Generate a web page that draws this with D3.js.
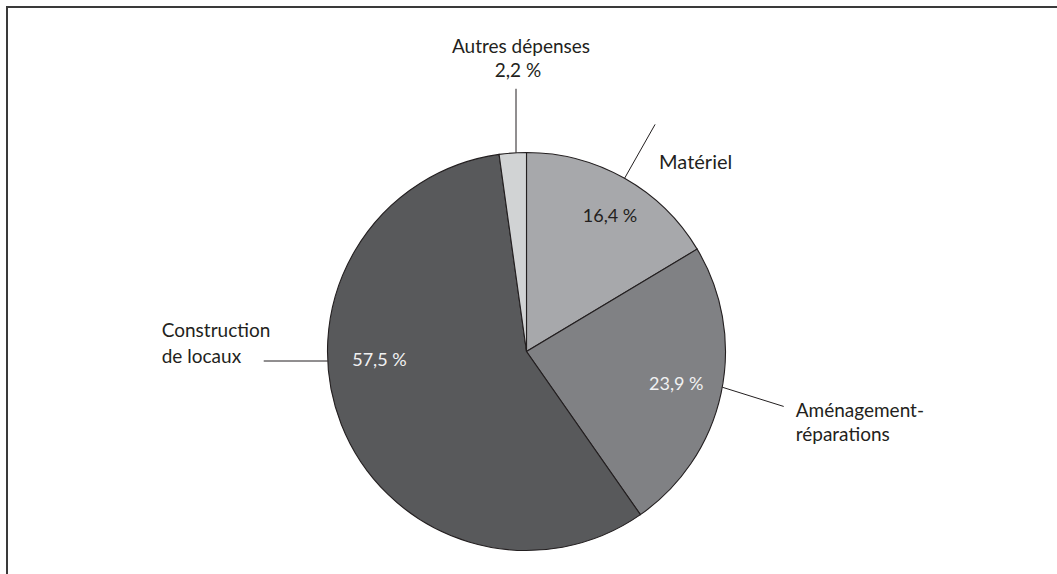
<!DOCTYPE html>
<html lang="fr">
<head>
<meta charset="utf-8">
<script src="https://cdn.jsdelivr.net/npm/d3@7"></script>
<style>
  html, body { margin: 0; padding: 0; background: #ffffff; }
  svg { display: block; }
  text { font-family: Lato, "Open Sans", sans-serif; }
</style>
</head>
<body>
<svg id="chart" width="1057" height="574"></svg>
<script>
// Répartition des dépenses (%), dans le sens horaire depuis midi
const categories = ["Matériel", "Aménagement-réparations", "Construction de locaux", "Autres dépenses"];
const labelLines = [["Matériel"], ["Aménagement-", "réparations"], ["Construction", "de locaux"], ["Autres dépenses"]];
const values = [16.4, 23.9, 57.5, 2.2];
const colors = ["#a7a8ab", "#808184", "#58595b", "#d1d3d4"];

const W = 1057, H = 574;
const svg = d3.select("#chart");

// cadre (bords gauche et haut)
svg.append("path")
  .attr("d", `M7,${H} L7,7 L${W},7`)
  .attr("fill", "none")
  .attr("stroke", "#3a3a3a")
  .attr("stroke-width", 2);

const cx = 526.5, cy = 351.5, R = 199;
const g = svg.append("g").attr("transform", `translate(${cx},${cy})`);

const fr = d3.formatLocale({ decimal: ",", thousands: " ", grouping: [3], currency: ["", " €"] });
const fmt = v => fr.format(".1f")(v) + " %";

const data = categories.map((c, i) => ({ name: c, lines: labelLines[i], value: values[i], color: colors[i] }));
const pie = d3.pie().sort(null).value(d => d.value).startAngle(0).endAngle(2 * Math.PI);
const arcs = pie(data);
const arc = d3.arc().innerRadius(0).outerRadius(R);

g.selectAll("path.slice")
  .data(arcs)
  .join("path")
  .attr("class", "slice")
  .attr("d", arc)
  .attr("fill", d => d.data.color)
  .attr("stroke", "#231f20")
  .attr("stroke-width", 1.1);

const mid = d => (d.startAngle + d.endAngle) / 2;
const polar = (a, r) => [r * Math.sin(a), -r * Math.cos(a)];

// étiquettes de pourcentage à l'intérieur des secteurs
const inside = [
  { i: 0, r: 0.80, angle: 0.552, fill: "#231f20" },
  { i: 1, r: 0.77, fill: "#f1f1f2" },
  { i: 2, r: 0.74, angle: 4.66, fill: "#f1f1f2" }
];
inside.forEach(o => {
  const d = arcs[o.i];
  const a = o.angle !== undefined ? o.angle : mid(d);
  const [x, y] = polar(a, o.r * R);
  g.append("text")
    .attr("x", x).attr("y", y)
    .attr("text-anchor", "middle")
    .attr("dy", "0.35em")
    .attr("font-size", 18)
    .attr("fill", o.fill)
    .text(fmt(d.data.value));
});

// lignes de rappel
const lineStyle = sel => sel.attr("stroke", "#231f20").attr("stroke-width", 1).attr("fill", "none");

// Matériel : ligne radiale
{
  const a = mid(arcs[0]);
  const [x1, y1] = polar(a, R);
  const [x2, y2] = polar(a, R + 62);
  g.append("line").attr("x1", x1).attr("y1", y1).attr("x2", x2).attr("y2", y2).call(lineStyle);
  g.append("text").attr("x", x2 + 4).attr("y", y2 + 45)
    .attr("font-size", 20).attr("fill", "#231f20").text(arcs[0].data.lines[0]);
}
// Aménagement-réparations
{
  const a = mid(arcs[1]) - 0.03;
  const [x1, y1] = polar(a, R);
  const [x2, y2] = polar(a + 0.03, R + 64);
  g.append("line").attr("x1", x1).attr("y1", y1).attr("x2", x2).attr("y2", y2).call(lineStyle);
  const t = g.append("text").attr("font-size", 19).attr("fill", "#231f20");
  arcs[1].data.lines.forEach((s, k) => {
    t.append("tspan").attr("x", x2 + 12).attr("y", y2 + 11 + k * 24).text(s);
  });
}
// Construction de locaux : ligne horizontale
{
  const yL = 9.5;
  const xe = -Math.sqrt(R * R - yL * yL);
  g.append("line").attr("x1", xe).attr("y1", yL).attr("x2", xe - 64).attr("y2", yL).call(lineStyle);
  const t = g.append("text").attr("font-size", 19).attr("fill", "#231f20");
  arcs[2].data.lines.forEach((s, k) => {
    t.append("tspan").attr("x", xe - 166).attr("y", yL - 24.5 + k * 26.5).text(s);
  });
}
// Autres dépenses : ligne verticale
{
  const xL = -10.5;
  const ye = -Math.sqrt(R * R - xL * xL);
  g.append("line").attr("x1", xL).attr("y1", ye).attr("x2", xL).attr("y2", ye - 64).call(lineStyle);
  const t = g.append("text").attr("font-size", 19).attr("fill", "#231f20").attr("text-anchor", "middle");
  t.append("tspan").attr("x", xL + 5).attr("y", ye - 100).text(arcs[3].data.lines[0]);
  t.append("tspan").attr("x", xL + 2).attr("y", ye - 76).text(fmt(arcs[3].data.value));
}
</script>
</body>
</html>
